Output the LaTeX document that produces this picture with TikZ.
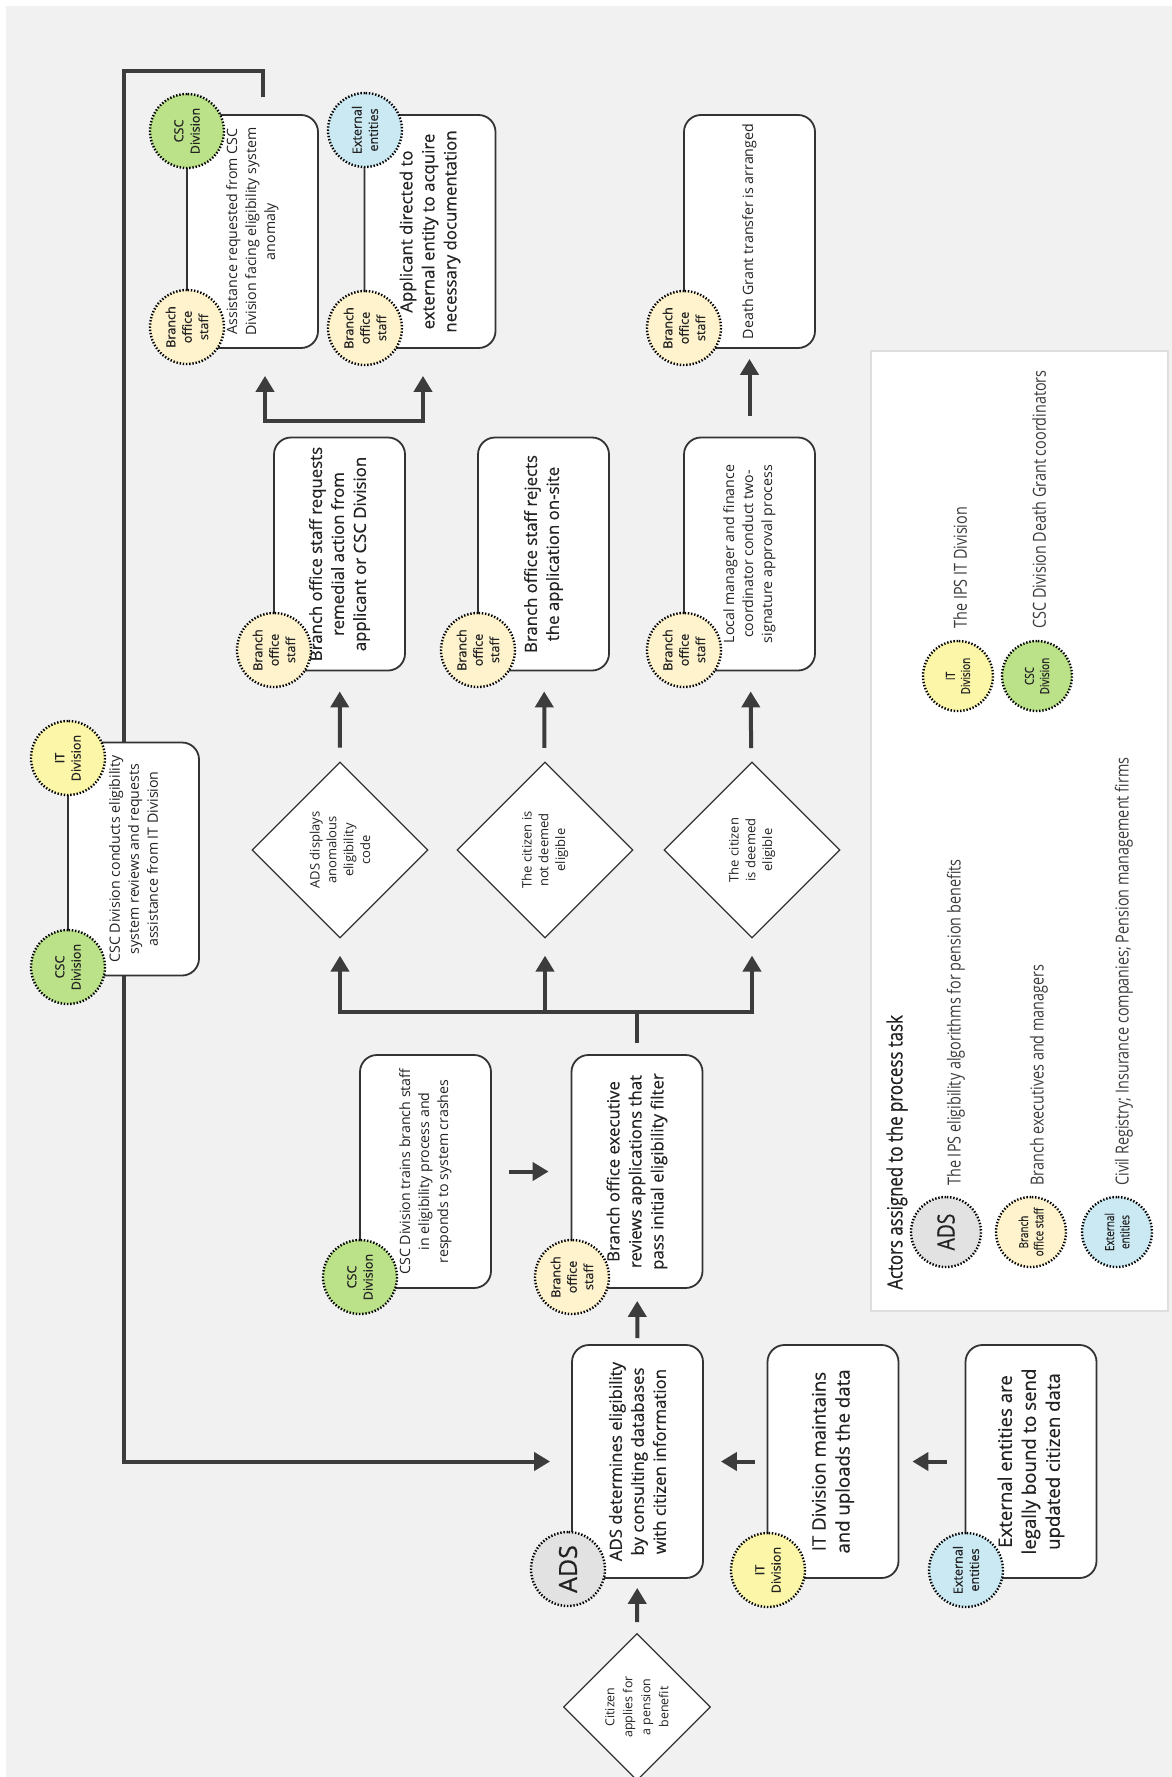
\documentclass[tikz,border=0pt]{standalone}
\usepackage{fontspec}
\setmainfont{Open Sans}
\newfontfamily\semifont[FakeBold=0.5]{Open Sans}
\newfontfamily\condfont[FakeStretch=0.8]{Open Sans}
\newfontfamily\condsemi[FakeStretch=0.8,FakeBold=0.5]{Open Sans}
\usetikzlibrary{arrows.meta,shapes.geometric}

\definecolor{bggray}{RGB}{241,241,241}
\definecolor{ink}{RGB}{51,51,51}
\definecolor{txt}{RGB}{34,34,34}
\definecolor{arrowgray}{RGB}{60,60,60}
\definecolor{legendline}{RGB}{222,222,222}
\definecolor{legendtxt}{RGB}{60,60,60}
\definecolor{cscgreen}{RGB}{187,225,137}
\definecolor{branchyellow}{RGB}{254,243,205}
\definecolor{ityellow}{RGB}{251,246,168}
\definecolor{extblue}{RGB}{203,233,243}
\definecolor{adsgray}{RGB}{226,226,226}

\newcommand\txtbig{\semifont\fontsize{8.4}{11}\selectfont}
\newcommand\txtlarge{\semifont\fontsize{9.3}{12}\selectfont}
\newcommand\txtsmall{\fontsize{7.1}{9.5}\selectfont}
\newcommand\txtdia{\fontsize{6.5}{8.4}\selectfont}
\newcommand\txtcit{\fontsize{6.2}{9}\selectfont}
\newcommand\txtact{\semifont\fontsize{6.3}{8.2}\selectfont}
\newcommand\txtadsbig{\semifont\fontsize{12.5}{14}\selectfont}
\newcommand\txtleg{\condfont\fontsize{9}{11}\selectfont}
\newcommand\txtlegact{\condsemi\fontsize{6.2}{7.6}\selectfont}
\newcommand\txttitle{\condsemi\fontsize{10.5}{12}\selectfont}

\begin{document}
\begin{tikzpicture}[x=0.5pt,y=-0.5pt,
  box/.style={draw=ink,line width=0.9pt,fill=white,rounded corners=8.5pt,rotate=90,
    minimum width=116.5pt,minimum height=65.5pt,inner sep=2pt,align=center,text=txt},
  bigbox/.style={box,font=\txtbig},
  largebox/.style={box,font=\txtlarge},
  smallbox/.style={box,font=\txtsmall},
  decision/.style={diamond,aspect=1,draw=ink,line width=0.6pt,fill=white,rotate=90,
    minimum size=88pt,inner sep=0pt,align=center,font=\txtdia,text=txt},
  actor/.style={circle,draw=black,line width=1.2pt,dash pattern=on 0.7pt off 0.9pt,
    minimum size=37pt,inner sep=0pt,rotate=90,align=center,font=\txtact,text=txt},
  cscactor/.style={actor,fill=cscgreen},
  branch/.style={actor,fill=branchyellow},
  itdiv/.style={actor,fill=ityellow},
  ext/.style={actor,fill=extblue},
  adsactor/.style={actor,fill=adsgray},
  legactor/.style={minimum size=35pt,font=\txtlegact},
  legtxt/.style={rotate=90,anchor=west,inner sep=0pt,font=\txtleg,text=legendtxt},
  flow/.style={draw=arrowgray,line width=2pt,-{Triangle[width=9pt,length=8pt]}}]

\useasboundingbox (0,0) rectangle (1172,1777);
\fill[white] (0,0) rectangle (1172,1777);
\fill[bggray] (6,6) rectangle (1172,1777);

% legend
\draw[legendline,fill=white,line width=0.6pt] (871,351) rectangle (1168,1311);
\node[rotate=90,anchor=west,inner sep=0pt,font=\txttitle,text=txt] (legtitle) at (897,1290) {Actors assigned to the process task};
\node[adsactor,legactor,font=\condsemi\fontsize{12}{14}\selectfont] (legads) at (946,1232) {ADS};
\node[legtxt] (legadstxt) at (956,1186) {The IPS eligibility algorithms for pension benefits};
\node[branch,legactor] (legbranch) at (1031,1232) {Branch\\office staff};
\node[legtxt] (legbranchtxt) at (1039,1186) {Branch executives and managers};
\node[ext,legactor] (legext) at (1117,1232) {External\\entities};
\node[legtxt] (legexttxt) at (1124,1186) {Civil Registry; Insurance companies; Pension management firms};
\node[itdiv,legactor] (legit) at (958,676) {IT\\Division};
\node[legtxt] (legittxt) at (960,629) {The IPS IT Division};
\node[cscactor,legactor] (legcsc) at (1037,676) {CSC\\Division};
\node[legtxt] (legcsctxt) at (1039,629) {CSC Division Death Grant coordinators};

% process steps
\node[smallbox] (assist) at (252.5,231.5) {Assistance requested from CSC\\Division facing eligibility system\\anomaly};
\node[bigbox] (applic) at (430,231.5) {Applicant directed to\\external entity to acquire\\necessary documentation};
\node[smallbox] (death) at (749.5,231.5) {Death Grant transfer is arranged};
\node[bigbox] (remedial) at (339.5,554) {Branch office staff requests\\remedial action from\\applicant or CSC Division};
\node[bigbox] (reject) at (543.5,554) {Branch office staff rejects\\the application on-site};
\node[smallbox] (approve) at (749.5,554) {Local manager and finance\\coordinator conduct two-\\signature approval process};
\node[decision] (anomaly) at (340,850) {ADS displays\\anomalous\\eligibility\\code};
\node[decision] (noteligible) at (545,850) {The citizen is\\not deemed\\eligible};
\node[decision] (eligible) at (752,850) {The citizen\\is deemed\\eligible};
\node[smallbox] (train) at (425.5,1171.5) {CSC Division trains branch staff\\in eligibility process and\\responds to system crashes};
\node[bigbox] (review) at (637,1171.5) {Branch office executive\\reviews applications that\\pass initial eligibility filter};
\node[bigbox] (ads) at (637.5,1461.5) {ADS determines eligibility\\by consulting databases\\with citizen information};
\node[largebox] (itbox) at (833,1461.5) {IT Division maintains\\and uploads the data};
\node[largebox] (extbox) at (1031,1461.5) {External entities are\\legally bound to send\\updated citizen data};
\node[decision,minimum size=73.5pt,font=\txtcit] (citizen) at (637,1707) {Citizen\\applies for\\a pension\\benefit};

% actors
\node[cscactor] (assistcsc) at (187,131) {CSC\\Division};
\node[branch] (assistbr) at (187,327) {Branch\\office\\staff};
\node[ext] (applicext) at (365,130) {External\\entities};
\node[branch] (applicbr) at (365,328) {Branch\\office\\staff};
\node[branch] (deathbr) at (684,328) {Branch\\office\\staff};
\node[branch] (remedialbr) at (274,650) {Branch\\office\\staff};
\node[branch] (rejectbr) at (478,650) {Branch\\office\\staff};
\node[branch] (approvebr) at (684,650) {Branch\\office\\staff};
\node[cscactor] (traincsc) at (360,1277) {CSC\\Division};
\node[branch] (reviewbr) at (572,1277) {Branch\\office\\staff};
\node[adsactor,font=\txtadsbig] (adsads) at (568,1569) {ADS};
\node[itdiv] (itboxit) at (768,1570) {IT\\Division};
\node[ext] (extboxext) at (966,1570) {External\\entities};

% connectors
\coordinate (bus) at (637,1012);
\coordinate (split) at (344,421);
\coordinate (loopcorner) at (124,71);
\draw[flow,shorten <=5.5pt,shorten >=4.5pt] (citizen) -- (ads);
\draw[flow,shorten <=6pt,shorten >=8.5pt] (itbox) -- (ads);
\draw[flow,shorten <=9pt,shorten >=6.5pt] (extbox) -- (itbox);
\draw[flow,shorten <=3pt,shorten >=6pt] (ads) -- (review);
\draw[flow,shorten <=8.5pt,shorten >=11pt] (train) -- (review);
\draw[draw=arrowgray,line width=2pt] ([yshift=5.5pt]review.east) -- (bus);
\foreach \d in {anomaly,noteligible,eligible}
  \draw[flow,shorten >=8.5pt] (bus) -| (\d);
\draw[flow,shorten <=7pt,shorten >=10pt] (anomaly) -- (remedial);
\draw[flow,shorten <=7pt,shorten >=10pt] (noteligible) -- (reject);
\draw[flow,shorten <=7pt,shorten >=10pt] (eligible) -- (approve);
\draw[flow,shorten <=10.5pt,shorten >=5pt] (approve) -- (death);
\draw[flow,shorten >=13.5pt] (split) -| ([xshift=6.25pt]assist.west);
\draw[flow,shorten >=13.5pt] (split) -| ([xshift=-3.5pt]applic.west);
\draw[flow,shorten >=10.5pt] ([xshift=5.25pt,yshift=8.5pt]assist.east) |- (loopcorner) |- (ads);

% review step on top of the loop
\node[smallbox] (conducts) at (133.5,859) {CSC Division conducts eligibility\\system reviews and requests\\assistance from IT Division};
\node[itdiv] (conductsit) at (68,758) {IT\\Division};
\node[cscactor] (conductscsc) at (68,967) {CSC\\Division};
\end{tikzpicture}
\end{document}
